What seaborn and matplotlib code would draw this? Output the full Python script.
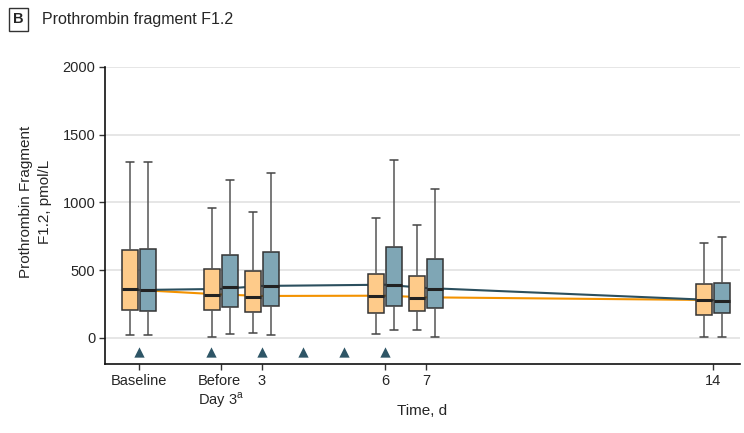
import numpy as np
import pandas as pd
import matplotlib.pyplot as plt
import seaborn as sns

# Time points (days) and their labels
days = [0, 2, 3, 6, 7, 14]
tick_labels = ["Baseline", "Before\nDay 3$^{\\mathregular{a}}$", "3", "6", "7", "14"]
groups = ["Group A", "Group B"]

# five-number summaries per time point: min, Q1, median, Q3, max (pmol/L)
orange_stats = [
    [22, 207, 362, 649, 1301],
    [10, 207, 320, 509, 957],
    [35, 194, 305, 492, 930],
    [30, 182, 310, 470, 883],
    [59, 197, 293, 455, 832],
    [10, 167, 280, 398, 703],
]
blue_stats = [
    [22, 199, 354, 655, 1299],
    [27, 231, 374, 612, 1168],
    [25, 239, 384, 632, 1215],
    [59, 239, 393, 674, 1311],
    [10, 219, 359, 581, 1102],
    [10, 182, 275, 408, 748],
]

# modelled trend lines
orange_trend = [354, 321, 310, 312, 300, 280]
blue_trend = [354, 362, 384, 393, 369, 280]

# dosing days (triangles)
dose_days = [0, 1.75, 3, 4, 5, 6]
dose_level = -103

orange_fill = "#FECB8A"
blue_fill = "#7FA6B5"
orange_line = "#F39200"
blue_line = "#2B4F5E"

rows = []
for g, stats in zip(groups, [orange_stats, blue_stats]):
    for d, s in zip(days, stats):
        for v in s:
            rows.append({"day": d, "value": v, "group": g})
df = pd.DataFrame(rows)

trend = pd.DataFrame({
    "day": days * 2,
    "value": orange_trend + blue_trend,
    "group": [groups[0]] * len(days) + [groups[1]] * len(days),
})

sns.set_style("white")
plt.rcParams["font.family"] = ["Liberation Sans Narrow", "Liberation Sans", "DejaVu Sans"]

fig = plt.figure(figsize=(7.44, 4.33), dpi=100)
ax = fig.add_axes([0.1411, 0.1594, 0.8535, 0.6859])

ax.grid(axis="y", color="#E2E2E2", linewidth=1.2, zorder=0)
ax.set_axisbelow(True)

sns.lineplot(data=trend, x="day", y="value", hue="group",
             palette=[orange_line, blue_line], linewidth=1.5,
             legend=False, ax=ax, zorder=1)

sns.boxplot(data=df, x="day", y="value", hue="group", native_scale=True,
            whis=(0, 100), width=0.88, gap=0.1, saturation=1,
            palette=[orange_fill, blue_fill], linecolor="#333333",
            linewidth=1.1, fliersize=0, legend=False, ax=ax,
            whiskerprops=dict(color="#555555"),
            capprops=dict(color="#444444"),
            medianprops=dict(color="#222222", linewidth=2.2),
            boxprops=dict(zorder=2))

ax.scatter(dose_days, [dose_level] * len(dose_days), marker="^", s=55,
           color="#2E5566", zorder=3, linewidths=0)

ax.set_xlim(-0.83, 14.66)
ax.set_ylim(-192, 2000)
ax.set_yticks([0, 500, 1000, 1500, 2000])
ax.set_xticks(days)
ax.set_xticklabels(tick_labels, multialignment="left")
ax.tick_params(axis="both", labelsize=10.5, length=4, width=1,
               color="#333333", direction="out", pad=3)
ax.tick_params(axis="x", bottom=True)
ax.tick_params(axis="y", left=True)

for side in ["top", "right"]:
    ax.spines[side].set_visible(False)
for side in ["left", "bottom"]:
    ax.spines[side].set_color("#111111")
    ax.spines[side].set_linewidth(1.2)

ax.set_xlabel("Time, d", fontsize=11)
ax.set_ylabel("Prothrombin Fragment\nF1.2, pmol/L", fontsize=11, linespacing=1.45)
ax.yaxis.set_label_coords(-0.083, 0.545)
ax.xaxis.set_label_coords(0.5, -0.135)

fig.text(0.0175, 0.955, "B", fontsize=10.5, fontweight="bold", va="center",
         bbox=dict(boxstyle="square,pad=0.3", facecolor="white",
                   edgecolor="#333333", linewidth=1))
fig.text(0.056, 0.955, "Prothrombin fragment F1.2", fontsize=11.5, va="center")

fig.savefig("out.png", dpi=100)
